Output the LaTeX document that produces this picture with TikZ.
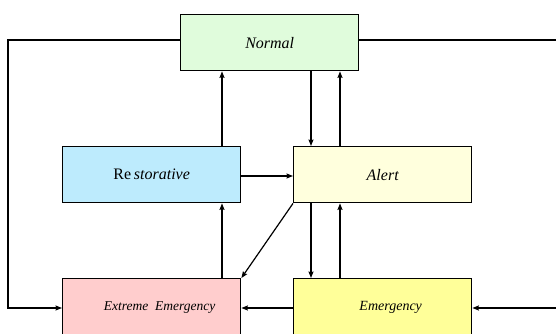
\documentclass[tikz,border=0pt]{standalone}
\usepackage{fontspec}
\setmainfont{Liberation Serif}
\usetikzlibrary{arrows.meta}
\definecolor{cnormal}{HTML}{E0FCDC}
\definecolor{crest}{HTML}{BDEBFD}
\definecolor{calert}{HTML}{FFFFDD}
\definecolor{cextreme}{HTML}{FFCDCD}
\definecolor{cemerg}{HTML}{FFFF99}
\tikzset{
  statebox/.style={draw=black, line width=1.4pt, minimum width=178pt, minimum height=56pt, inner sep=0pt, anchor=north west},
  conn/.style={line width=1.2pt, -{Stealth[length=6.5pt,width=5pt,inset=1pt]}}
}
\begin{document}
\begin{tikzpicture}[x=1pt,y=-1pt]
\useasboundingbox (0,0) rectangle (556,334);
\node[statebox, fill=cnormal] (normal) at (180,14) {};
\node at (normal.center) {\fontsize{16}{18}\selectfont\itshape Normal};
\node[statebox, fill=crest] (rest) at (62,146) {};
\node at (rest.center) {\fontsize{16}{18}\selectfont Re\,\itshape storative};
\node[statebox, fill=calert] (alert) at (293,146) {};
\node at (alert.center) {\fontsize{16}{18}\selectfont\itshape Alert};
\node[statebox, fill=cextreme] (extreme) at (62,278) {};
\node at ([xshift=8pt,yshift=-1pt]extreme.center) {\fontsize{13.5}{15}\selectfont\itshape Extreme~ Emergency};
\node[statebox, fill=cemerg] (emerg) at (293,278) {};
\node at ([xshift=8pt,yshift=-1pt]emerg.center) {\fontsize{14}{16}\selectfont\itshape Emergency};

\coordinate (lt) at (8,40);
\coordinate (lb) at (8,308);
\coordinate (rt) at (557,40);
\coordinate (rb) at (557,308);

% outer loops
\draw[conn] (normal.west |- lt) -- (lt) -- (lb) -- (extreme.west |- lb);
\draw[conn] (normal.east |- rt) -- (rt) -- (rb) -- (emerg.east |- rb);

% vertical links
\draw[conn] (rest.north -| 222,0) -- (normal.south -| 222,0);
\draw[conn] (extreme.north -| 222,0) -- (rest.south -| 222,0);
\draw[conn] (normal.south -| 311,0) -- (alert.north -| 311,0);
\draw[conn] (alert.north -| 340,0) -- (normal.south -| 340,0);
\draw[conn] (alert.south -| 311,0) -- (emerg.north -| 311,0);
\draw[conn] (emerg.north -| 340,0) -- (alert.south -| 340,0);

% horizontal links
\draw[conn] (rest.east |- 0,176) -- (alert.west |- 0,176);
\draw[conn] (emerg.west |- 0,308) -- (extreme.east |- 0,308);

% diagonal
\draw[conn] (alert.south west) -- (extreme.north east);
\end{tikzpicture}
\end{document}
